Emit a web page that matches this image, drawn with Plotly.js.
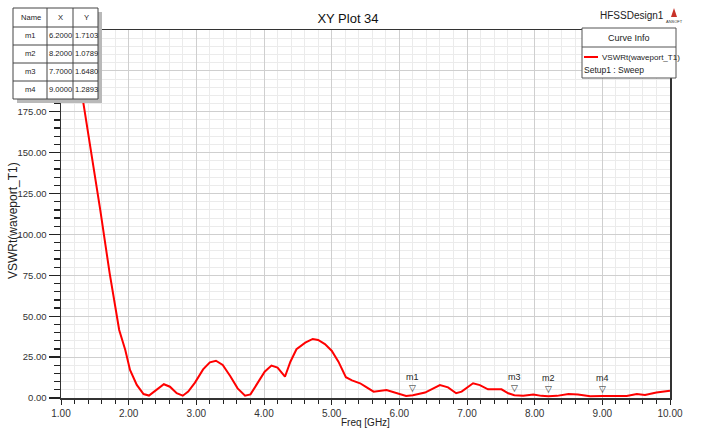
<!DOCTYPE html>
<html>
<head>
<meta charset="utf-8">
<script src="https://cdn.plot.ly/plotly-3.0.1.min.js"></script>
<style>html,body{margin:0;padding:0;background:#fff;}#chart{width:703px;height:429px;}</style>
</head>
<body>
<div id="chart"></div>
<script>
// ---- data ----
const freqGHz = [1.00, 1.10, 1.20, 1.33, 1.43, 1.58, 1.72, 1.86, 1.95, 2.02, 2.12, 2.22, 2.30, 2.41, 2.52, 2.61, 2.71, 2.80, 2.88, 2.98,
  3.10, 3.20, 3.29, 3.39, 3.50, 3.61, 3.72, 3.80, 3.90, 4.01, 4.11, 4.20, 4.31, 4.39, 4.48, 4.61, 4.72, 4.80, 4.90, 5.00,
  5.10, 5.21, 5.30, 5.42, 5.50, 5.62, 5.81, 5.94, 6.10, 6.20, 6.38, 6.60, 6.72, 6.84, 6.92, 7.09, 7.19, 7.31, 7.51, 7.61,
  7.70, 7.83, 7.98, 8.10, 8.20, 8.33, 8.50, 8.64, 8.82, 9.00, 9.36, 9.51, 9.63, 9.80, 10.00];
const vswr = [267, 241, 215, 182, 156, 115, 76, 41.6, 29.4, 17.1, 8.0, 2.4, 1.5, 4.9, 8.4, 6.9, 2.9, 1.4, 3.9, 9.4,
  17.5, 21.8, 22.8, 20.2, 13.5, 5.9, 1.4, 2.2, 9.0, 16.1, 19.8, 18.6, 13.0, 22.2, 29.8, 33.8, 36.1, 35.5, 33.0, 28.9,
  22.2, 12.7, 10.8, 9.0, 6.9, 3.9, 4.9, 3.3, 1.2, 1.7103, 3.3, 7.9, 6.5, 2.9, 3.9, 9.0, 7.9, 5.3, 5.3, 2.9,
  1.648, 1.4, 2.2, 1.3, 1.0789, 1.3, 2.4, 2.2, 1.1, 1.2893, 1.2, 2.4, 1.8, 3.3, 4.5];

const markerNames = ["m1", "m2", "m3", "m4"];
const markerX = [6.2, 8.2, 7.7, 9.0];
const markerY = [1.7103, 1.0789, 1.6480, 1.2893];
const tableHeaders = ["Name", "X", "Y"];

const xTickVals = [1, 2, 3, 4, 5, 6, 7, 8, 9, 10];
const yTickVals = [0, 25, 50, 75, 100, 125, 150, 175, 200, 225];
// the 200 and 225 labels sit behind the marker table in the reference
const yTickText = ["0.00", "25.00", "50.00", "75.00", "100.00", "125.00", "150.00", "175.00", "", ""];

const curveName = "VSWRt(waveport_T1)";
const setupName = "Setup1 : Sweep";

// ---- layout helpers (pixel -> paper) ----
const L = 61, R = 670, T = 30, B = 398;
const W = R - L, H = B - T;
const px = p => (p - L) / W;
const py = p => (B - p) / H;
const FONT = "Liberation Sans, Arial, sans-serif";

const shapes = [];
const annotations = [];

// marker table (top-left)
const tblL = 13, tblR = 98, tblT = 8;
const colEdges = [13, 47, 73, 98];
const rowEdges = [8, 27, 45, 63, 81, 99];
shapes.push({type: "rect", xref: "paper", yref: "paper", layer: "above",
  x0: px(tblL + 4), x1: px(tblR + 4), y0: py(tblT + 4), y1: py(rowEdges[5] + 4),
  fillcolor: "#b9b9b9", line: {width: 0}});
shapes.push({type: "rect", xref: "paper", yref: "paper", layer: "above",
  x0: px(tblL), x1: px(tblR), y0: py(tblT), y1: py(rowEdges[5]),
  fillcolor: "#ffffff", line: {color: "#444", width: 1}});
for (let i = 1; i < rowEdges.length - 1; i++) {
  shapes.push({type: "line", xref: "paper", yref: "paper", layer: "above",
    x0: px(tblL), x1: px(tblR), y0: py(rowEdges[i]), y1: py(rowEdges[i]), line: {color: "#444", width: 1}});
}
for (let i = 1; i < colEdges.length - 1; i++) {
  shapes.push({type: "line", xref: "paper", yref: "paper", layer: "above",
    x0: px(colEdges[i]), x1: px(colEdges[i]), y0: py(tblT), y1: py(rowEdges[5]), line: {color: "#444", width: 1}});
}
const cellText = (txt, c, r) => annotations.push({xref: "paper", yref: "paper", showarrow: false,
  x: px((colEdges[c] + colEdges[c + 1]) / 2 + 0.5), y: py((rowEdges[r] + rowEdges[r + 1]) / 2),
  xanchor: "center", yanchor: "middle", text: txt, font: {family: FONT, size: 7.6, color: "#222"}});
tableHeaders.forEach((h, c) => cellText(h, c, 0));
markerNames.forEach((n, i) => {
  cellText(n, 0, i + 1);
  cellText(markerX[i].toFixed(4), 1, i + 1);
  cellText(markerY[i].toFixed(4), 2, i + 1);
});

// curve info box (top-right)
const lgL = 582, lgR = 676, lgT = 28, lgB = 78;
shapes.push({type: "rect", xref: "paper", yref: "paper", layer: "above",
  x0: px(lgL), x1: px(lgR), y0: py(lgT), y1: py(lgB), fillcolor: "#ffffff", line: {color: "#555", width: 1}});
shapes.push({type: "line", xref: "paper", yref: "paper", layer: "above",
  x0: px(lgL), x1: px(lgR), y0: py(47), y1: py(47), line: {color: "#555", width: 1}});
shapes.push({type: "line", xref: "paper", yref: "paper", layer: "above",
  x0: px(584), x1: px(598), y0: py(57), y1: py(57), line: {color: "#ff0000", width: 2}});
annotations.push({xref: "paper", yref: "paper", showarrow: false, x: px(629), y: py(38),
  xanchor: "center", yanchor: "middle", text: "Curve Info", font: {family: FONT, size: 9, color: "#222"}});
annotations.push({xref: "paper", yref: "paper", showarrow: false, x: px(600), y: py(57),
  xanchor: "left", yanchor: "middle", text: curveName, font: {family: FONT, size: 8, color: "#222"}});
annotations.push({xref: "paper", yref: "paper", showarrow: false, x: px(582), y: py(70),
  xanchor: "left", yanchor: "middle", text: setupName, font: {family: FONT, size: 8.5, color: "#222"}});

// design name + logo
annotations.push({xref: "paper", yref: "paper", showarrow: false, x: px(632), y: py(16),
  xanchor: "center", yanchor: "middle", text: "HFSSDesign1", font: {family: FONT, size: 10, color: "#222"}});
shapes.push({type: "path", xref: "paper", yref: "paper", layer: "above",
  path: `M ${px(671)} ${py(17)} L ${px(674)} ${py(8)} L ${px(677)} ${py(17)} Z`,
  fillcolor: "#c8322a", line: {width: 0}});
annotations.push({xref: "paper", yref: "paper", showarrow: false, x: px(674), y: py(21),
  xanchor: "center", yanchor: "middle", text: "ANSOFT", font: {family: FONT, size: 4, color: "#333"}});

// axis titles
annotations.push({xref: "paper", yref: "paper", showarrow: false, x: px(13), y: py(221),
  xanchor: "center", yanchor: "middle", textangle: -90, text: "VSWRt(waveport_T1)",
  font: {family: FONT, size: 12, color: "#222"}});
annotations.push({xref: "paper", yref: "paper", showarrow: false, x: px(365), y: py(422),
  xanchor: "center", yanchor: "middle", text: "Freq [GHz]", font: {family: FONT, size: 10, color: "#222"}});

// markers on the curve
markerNames.forEach((n, i) => {
  annotations.push({x: markerX[i], y: markerY[i], xref: "x", yref: "y", showarrow: false,
    text: "▽", yshift: 7, font: {family: "DejaVu Sans", size: 9, color: "#222"}});
  annotations.push({x: markerX[i], y: markerY[i], xref: "x", yref: "y", showarrow: false,
    text: n, yshift: 18, font: {family: FONT, size: 9, color: "#222"}});
});

const trace = {x: freqGHz, y: vswr, type: "scatter", mode: "lines", name: curveName,
  line: {color: "#ff0000", width: 2}, showlegend: false, hoverinfo: "skip"};

const layout = {
  width: 703, height: 429,
  margin: {l: L, r: 703 - R, t: T, b: 429 - B, pad: 0},
  paper_bgcolor: "#ffffff", plot_bgcolor: "#ffffff",
  showlegend: false,
  title: {text: "XY Plot 34", x: 348 / 703, y: 1 - 18 / 429, xref: "container", yref: "container",
    xanchor: "center", yanchor: "middle", font: {family: FONT, size: 13, color: "#111"}},
  xaxis: {range: [1, 10], tickvals: xTickVals, tickformat: ".2f",
    ticks: "outside", ticklen: 5, tickwidth: 1, tickcolor: "#222",
    showgrid: true, gridcolor: "#cfcfcf", gridwidth: 1,
    minor: {dtick: 0.2, tick0: 1, ticks: "outside", ticklen: 4, tickcolor: "#222", showgrid: true, gridcolor: "#ebebeb", gridwidth: 1},
    showline: true, linecolor: "#333", linewidth: 1.5, mirror: true, zeroline: false,
    tickfont: {family: FONT, size: 10, color: "#333"}},
  yaxis: {range: [0, 225], tickvals: yTickVals, ticktext: yTickText,
    ticks: "outside", ticklen: 11, tickwidth: 1.3, tickcolor: "#222",
    showgrid: true, gridcolor: "#cfcfcf", gridwidth: 1,
    minor: {dtick: 5, tick0: 0, ticks: "outside", ticklen: 6, tickcolor: "#222", showgrid: true, gridcolor: "#ebebeb", gridwidth: 1},
    showline: true, linecolor: "#333", linewidth: 1.5, mirror: true, zeroline: false,
    tickfont: {family: FONT, size: 9.5, color: "#333"}},
  shapes: shapes,
  annotations: annotations
};

Plotly.newPlot("chart", [trace], layout, {staticPlot: true, displayModeBar: false});
</script>
</body>
</html>
